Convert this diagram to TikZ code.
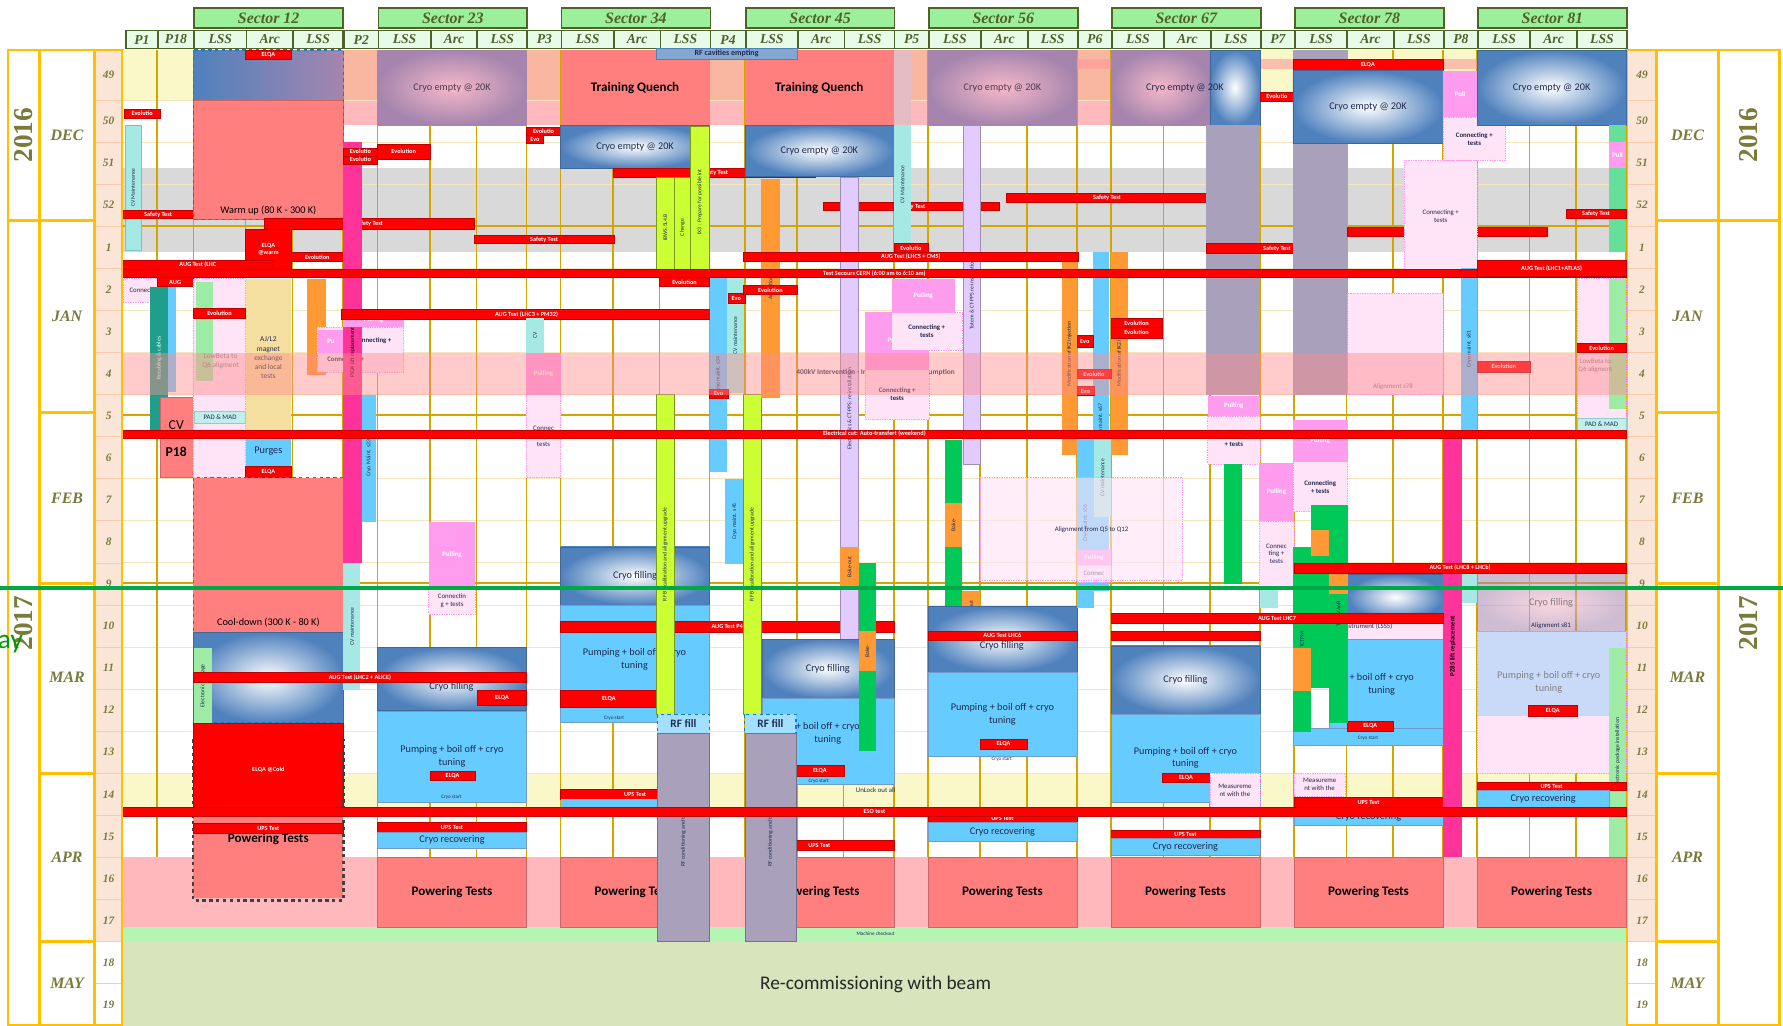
\documentclass[tikz,border=0pt]{standalone}
\usepackage{fontspec}
\setmainfont{Liberation Serif}
\newfontfamily\calib{Carlito}

\definecolor{goldl}{HTML}{D4A500}
\definecolor{frameor}{HTML}{FFC000}
\definecolor{peach}{HTML}{F8CBAD}
\definecolor{weekbg}{HTML}{FBE5D6}
\definecolor{olive}{HTML}{4F6228}
\definecolor{wkcol}{HTML}{7A7A3A}
\definecolor{hdrgreen}{HTML}{9CF09C}
\definecolor{subgreen}{HTML}{E8FAE8}
\definecolor{salmon}{HTML}{FF7F7F}
\definecolor{lblue}{HTML}{66CCFF}
\definecolor{cblue}{HTML}{4F81BD}
\definecolor{mauve}{HTML}{A585AE}
\definecolor{mauvein}{HTML}{F6B8C8}
\definecolor{greyp}{HTML}{A9A1BC}
\definecolor{lime}{HTML}{CCFF33}
\definecolor{hotpink}{HTML}{FF3399}
\definecolor{pull}{HTML}{FF9CEE}
\definecolor{dotpink}{HTML}{FFE3F6}
\definecolor{cyanl}{HTML}{A6E8E4}
\definecolor{lpurple}{HTML}{E2CCFF}
\definecolor{orng}{HTML}{FF9933}
\definecolor{tealc}{HTML}{1F9E8C}
\definecolor{grn}{HTML}{00C957}
\definecolor{lgrn}{HTML}{9EEBA5}
\definecolor{pyellow}{HTML}{FAF8C8}
\definecolor{salm2}{HTML}{F9B6A0}
\definecolor{pinkband}{HTML}{FF8C8C}
\definecolor{lpink}{HTML}{FFB8BC}
\definecolor{mgreen}{HTML}{B4F5B4}
\definecolor{beige}{HTML}{D8E4BC}
\definecolor{todayc}{HTML}{00A846}
\definecolor{tanc}{HTML}{F5DFA0}
\definecolor{greyc}{HTML}{D9D9D9}
\definecolor{rowl}{HTML}{F5E6C0}
\definecolor{darkred}{HTML}{C00000}
\definecolor{navy}{HTML}{1F2A4F}

\tikzset{
  sechdr/.style={draw=olive, line width=1.5pt, fill=hdrgreen, text=olive, inner sep=0pt,
    font=\bfseries\itshape\fontsize{14}{14}\selectfont},
  subhdr/.style={draw=olive, line width=1.5pt, fill=subgreen, text=olive, inner sep=0pt,
    minimum height=16pt, anchor=north west, font=\bfseries\itshape\fontsize{12}{12}\selectfont},
  wknum/.style={text=wkcol, font=\bfseries\itshape\fontsize{10}{10}\selectfont},
  month/.style={text=wkcol, font=\bfseries\itshape\fontsize{14}{14}\selectfont},
  year/.style={text=wkcol, rotate=90, font=\bfseries\fontsize{24}{24}\selectfont},
  goldline/.style={goldl, line width=1.3pt},
  redbar/.style={fill=red, draw=darkred, line width=0.4pt},
  redtxt/.style={font=\calib\bfseries\fontsize{5.5}{6}\selectfont, text=white, align=center, inner sep=0pt},
  tasktxt/.style={font=\calib\fontsize{6}{7}\selectfont, text=navy, align=center, inner sep=0pt},
  whitetxt/.style={tasktxt, text=white, font=\calib\bfseries\fontsize{6}{7}\selectfont},
  cryotxt/.style={font=\calib\fontsize{9}{11}\selectfont, text=navy, align=center, inner sep=0pt},
  bigtxt/.style={font=\calib\bfseries\fontsize{11.5}{12}\selectfont, text=black, inner sep=0pt},
  vtxt/.style={rotate=90, font=\calib\fontsize{5}{5}\selectfont, text=navy, inner sep=0pt},
  tinytxt/.style={font=\calib\fontsize{4.5}{5}\selectfont, text=navy, inner sep=0pt},
  cryoempty/.style={inner color=white, outer color=cblue, draw=cblue!80!black, line width=.4pt},
  cryomauve/.style={inner color=mauvein, outer color=mauve},
  lbluebox/.style={fill=lblue, draw=cblue!80, line width=.3pt},
  power/.style={fill=salmon, draw=salmon!80!black, line width=.3pt},
  dotbox/.style={fill=dotpink, draw=pull, densely dotted, line width=.5pt},
  pullbox/.style={fill=pull},
}

% block with a centred label: fill style, label style, name, x1, y1, x2, y2, text
\newcommand{\blk}[8]{%
  \path[#1] (#4,#5) rectangle (#6,#7);
  \node[#2] (#3) at ({(#4+#6)/2},{(#5+#7)/2}) {#8};}
% red label bar: name, x1, y1, x2, y2, text
\newcommand{\rlab}[6]{%
  \path[redbar] (#2,#3) rectangle (#4,#5);
  \node[redtxt] (#1) at ({(#2+#4)/2},{(#3+#5)/2}) {#6};}

\begin{document}
\begin{tikzpicture}[x=1pt,y=-1pt]
\useasboundingbox (0,0) rectangle (1568,902);
\fill[white] (0,0) rectangle (1568,902);

% ---------- header
\foreach \s/\nm in {170/12,332/23,493/34,655/45,816/56,977/67,1138/78,1299/81} {
  \node[sechdr, minimum width=131pt, minimum height=18pt, anchor=north west] (sec\nm) at (\s,6) {Sector \nm};
  \node[subhdr, minimum width=46pt] (lssa\nm) at (\s,26) {LSS};
  \node[subhdr, minimum width=41pt] (arc\nm) at (\s+46,26) {Arc};
  \node[subhdr, minimum width=44pt] (lssb\nm) at (\s+87,26) {LSS};
}
\foreach \a/\w/\nm in {110/28/P1,138/32/P18,302/30/P2,463/30/P3,624/31/P4,786/30/P5,947/30/P6,1108/30/P7,1269/30/P8} {
  \node[subhdr, minimum width=\w pt] (hdr\nm) at (\a,26) {\nm};
}

% ---------- side frames
\fill[weekbg] (83,44) rectangle (108,828);
\fill[weekbg] (1430,44) rectangle (1457,828);
\foreach \n in {1,...,22} {
  \draw[peach, line width=.6pt] (83,{51+37*\n}) -- (108,{51+37*\n});
  \draw[peach, line width=.6pt] (1430,{51+37*\n}) -- (1457,{51+37*\n});
}
\foreach \xa/\xb in {7/35,35/83,83/108,1430/1457,1457/1511,1511/1565} {
  \draw[frameor, line width=2.5pt] (\xa,44) rectangle (\xb,902);
}
\foreach \y in {194,363,513,680,828} {
  \draw[frameor, line width=2.5pt] (35,\y) -- (83,\y);
  \draw[frameor, line width=2.5pt] (1457,\y) -- (1511,\y);
}
\draw[frameor, line width=2.5pt] (7,194) -- (35,194);
\draw[frameor, line width=2.5pt] (1511,194) -- (1565,194);
\foreach \w [count=\n from 0] in {49,50,51,52,1,2,3,4,5,6,7,8,9,10,11,12,13,14,15,16,17,18,19} {
  \pgfmathsetmacro{\yc}{\n==0 ? 66 : 69.5+37*\n}
  \node[wknum] (wl\n) at (95.5,\yc) {\w};
  \node[wknum] (wr\n) at (1444,\yc) {\w};
}
\foreach \m/\y in {DEC/119,JAN/278,FEB/438,MAR/596,APR/754,MAY/865} {
  \node[month] (ml\m) at (59,\y) {\m};
  \node[month] (mr\m) at (1484,\y) {\m};
}
\node[year] (yl16) at (21,119) {2016};
\node[year] (yl17) at (21,548) {2017};
\node[year] (yr16) at (1538,119) {2016};
\node[year] (yr17) at (1538,548) {2017};

% ---------- chart background
\fill[white] (108,44) rectangle (1430,828);
\fill[pyellow] (108,44) rectangle (1430,88);
\foreach \a/\b in {302/332,463/493,624/655,786/816,947/977} {
  \fill[salm2] (\a,44) rectangle (\b,88);
}
\fill[lpink] (302,88) rectangle (1108,110);
\fill[greyc] (108,148) rectangle (1430,222);
\fill[pyellow] (108,680) rectangle (1430,712);
\foreach \n in {1,...,19} {
  \draw[rowl, line width=.7pt] (108,{51+37*\n}) -- (1430,{51+37*\n});
}
\foreach \s in {170,332,493,655,816,977,1138,1299} {
  \foreach \d in {0,46,87,131} {
    \draw[goldline] (\s+\d,44) -- (\s+\d,754);
  }
}
\draw[goldline] (138,44) -- (138,754);
\foreach \y in {199,365,513} {
  \draw[goldl, line width=2pt] (108,\y) -- (1430,\y);
}
\fill[red!40, opacity=.6] (885,52) rectangle (1360,61);
\fill[lpink] (108,754) rectangle (1430,815);
\fill[mgreen] (108,815) rectangle (1430,828);
\node[tinytxt] (checkout) at (770,821) {Machine checkout};
\fill[beige] (108,828) rectangle (1430,902);
\node[font=\calib\fontsize{17}{17}\selectfont, text=black!85] (recom) at (770,866) {Re-commissioning with beam};

% ---------- powering tests
\foreach \s/\nm in {332/23,493/34,655/45,816/56,977/67,1138/78,1299/81} {
  \blk{power}{bigtxt}{pow\nm}{\s}{754}{\s+131}{815}{Powering Tests}
}

% ---------- P1 / P18
\rlab{p1evo}{109}{96}{141}{104}{Evolutio}
\blk{fill=cyanl,draw=tealc!60}{vtxt}{p1cv}{110}{110}{124}{220}{CV Maintenance}
\rlab{p1safety}{108}{185}{170}{192}{Safety Test}
\blk{dotbox}{tasktxt}{p1conn}{108}{245}{138}{266}{Connec}
\rlab{p18aug}{138}{244}{170}{252}{AUG}
\blk{fill=tealc}{vtxt,text=white}{p18cab}{132}{252}{148}{378}{Recabling \& cables}
\path[fill=lblue] (148,252) rectangle (155,345);
\path[fill=salmon, draw=salmon!80!black] (141,349) rectangle (172,420);
\node[font=\calib\fontsize{12}{12}\selectfont] (p18cv) at (155,374) {CV};
\node[font=\calib\bfseries\fontsize{12}{12}\selectfont] (p18name) at (155,397) {P18};

% ---------- Sector 12
\path[left color=cblue, middle color=cblue!25, right color=mauve] (170,44) rectangle (302,88);
\path[fill=salmon, draw=salmon!80!black] (170,88) rectangle (302,193);
\node[cryotxt, text=black] (s12warm) at (236,185) {Warm up (80 K - 300 K)};
\draw[dashed, cyan!60!blue, line width=1.3pt] (170,44) rectangle (302,193);
\rlab{s12elqa}{216}{44}{256}{52}{ELQA}
\rlab{s12elqaw}{216}{202}{256}{237}{ELQA\\@warm}
\rlab{s12evo}{256}{222}{302}{230}{Evolution}
\rlab{s12safety}{232}{192}{417}{202}{Safety Test}
\rlab{s23safety}{417}{207}{540}{214}{Safety Test}
\path[dotbox] (170,245) rectangle (216,420);
\path[fill=lgrn] (172,248) rectangle (187,335);
\rlab{s12evo2}{170}{271}{216}{280}{Evolution}
\node[tasktxt, text=gray, font=\calib\fontsize{6.5}{8}\selectfont] (s12lowb) at (194,318) {LowBeta to\\Q6 aligment};
\blk{fill=cyanl!70, draw=tealc!50}{tasktxt}{s12pad}{171}{362}{216}{372}{PAD \& MAD}
\blk{fill=tanc}{tasktxt, font=\calib\fontsize{6.5}{8}\selectfont}{s12aj}{216}{245}{256}{384}{AJ/L2\\magnet\\exchange\\and local\\tests}
\blk{fill=lblue}{cryotxt}{s12purge}{216}{384}{256}{410}{Purges}
\rlab{s12elqa3}{216}{410}{256}{420}{ELQA}
\path[fill=orng] (270,245) rectangle (287,330);
\path[dotbox] (279,288) rectangle (355,327);
\blk{pullbox}{whitetxt}{s12pu}{280}{290}{302}{310}{Pu}
\node[tasktxt, font=\calib\bfseries\fontsize{6}{7}\selectfont] (s12conn) at (328,300) {Connecting +};
\node[tasktxt, font=\calib\bfseries\fontsize{6}{7}\selectfont] (s12conn2) at (304,316) {Connecting +};
\path[fill=salmon] (170,420) rectangle (302,556);
\node[cryotxt, text=black] (s12cool) at (236,547) {Cool-down (300 K - 80 K)};
\path[cryoempty] (170,556) rectangle (302,636);
\draw[dashed, cyan!60!blue, line width=1.3pt] (170,420) rectangle (302,636);
\blk{fill=lgrn}{vtxt}{s12elec}{171}{570}{186}{636}{Electronic package}
\path[fill=salmon] (170,718) rectangle (302,790);
\node[bigtxt] (pow12) at (236,738) {Powering Tests};
\rlab{s12elqac}{170}{636}{302}{718}{ELQA @Cold}
\rlab{s12ups}{170}{724}{302}{733}{UPS Test}
\draw[dashed, black!75, line width=2pt] (170,650) -- (170,792) -- (302,792) -- (302,650);

% ---------- P2
\blk{fill=hotpink}{vtxt, text=black}{p2lift}{302}{125}{318}{495}{PX24 Lift replacement}
\rlab{p2evo}{302}{130}{332}{137}{Evolutio}
\rlab{p2evo2}{302}{137}{332}{144}{Evolutio}
\blk{pullbox}{whitetxt}{p2pull}{302}{274}{355}{288}{Pulling}
\blk{fill=lblue}{vtxt}{p2cryo}{318}{347}{331}{459}{Cryo Maint. s23}
\blk{fill=cyanl}{vtxt}{p2cv}{302}{495}{317}{607}{CV maintenance}

% ---------- Sector 23
\blk{cryomauve}{cryotxt, text=mauve!45!black}{s23empty}{332}{44}{463}{110}{Cryo empty @ 20K}
\rlab{s23evo}{332}{127}{378}{140}{Evolution}
\rlab{s23aug}{300}{272}{626}{281}{AUG Test (LHC3 + PM32)}
\blk{pullbox}{whitetxt}{s23pull}{377}{459}{418}{516}{Pulling}
\blk{dotbox}{tasktxt}{s23conn}{377}{516}{418}{540}{Connectin\\g + tests}
\blk{cryoempty}{cryotxt}{s23fill}{332}{569}{463}{625}{}
\node[cryotxt] (s23filltxt) at (397,604) {Cryo filling};
\rlab{s12aug}{170}{591}{463}{600}{AUG Test (LHC2 + ALICE)}
\rlab{s23elqa}{420}{607}{463}{620}{ELQA}
\blk{lbluebox}{cryotxt}{s23pump}{332}{625}{463}{705}{Pumping + boil off + cryo\\tuning}
\rlab{s23elqa2}{378}{678}{418}{686}{ELQA}
\node[tinytxt] (s23start) at (397,701) {Cryo start};
\rlab{s23ups}{332}{723}{463}{732}{UPS Test}
\blk{lbluebox}{cryotxt}{s23rec}{332}{732}{463}{746}{Cryo recovering}

% ---------- P3
\rlab{p3evo}{463}{112}{493}{119}{Evolutio}
\rlab{p3evo2}{463}{119}{478}{126}{Evo}
\blk{fill=cyanl}{vtxt}{p3cv}{463}{280}{478}{310}{CV}
\blk{pullbox}{whitetxt}{p3pull}{463}{310}{493}{347}{Pulling}
\blk{dotbox}{tasktxt}{p3conn}{463}{347}{493}{420}{Connec\\ting +\\tests}

% ---------- Sector 34
\blk{fill=salmon}{bigtxt}{s34train}{493}{44}{624}{110}{Training Quench}
\blk{cryoempty}{cryotxt}{s34empty}{493}{110}{624}{148}{Cryo empty @ 20K}
\rlab{s34safety}{539}{148}{717}{156}{Safety Test}
\blk{fill=lime, draw=lime!60!black}{vtxt}{s34ibws}{577}{156}{593}{244}{IBWS.5L4.B}
\blk{fill=lime, draw=lime!60!black}{vtxt}{s34chg}{593}{156}{607}{244}{Change}
\blk{fill=lime, draw=lime!60!black}{vtxt}{s34ix3}{607}{111}{624}{244}{IX3 : Prepare for possible int}
\rlab{s34evo}{580}{244}{624}{252}{Evolution}
\blk{cryoempty}{cryotxt}{s34fill}{493}{481}{624}{532}{Cryo filling}
\path[lbluebox] (493,532) rectangle (624,635);
\node[cryotxt] (s34pump) at (558,580) {Pumping + boil off + cryo\\tuning};
\rlab{s34aug}{493}{546}{786}{556}{AUG Test P4}
\rlab{s34elqa}{493}{607}{578}{622}{ELQA}
\node[tinytxt] (s34start) at (540,632) {Cryo start};
\blk{fill=lime, draw=lime!60!black}{vtxt}{s34rfb2}{577}{347}{593}{628}{RF B2 calibration and alignment upgrade}
\rlab{s34ups}{493}{694}{624}{703}{UPS Test}
\path[fill=lblue] (493,703) rectangle (578,712);
\blk{fill=lblue!60, draw=cyan!60!blue, dashed, line width=1pt}{cryotxt, font=\calib\bfseries\fontsize{10}{10}\selectfont}{s34rffill}{578}{628}{624}{645}{RF fill}
\blk{fill=greyp, draw=greyp!70!black}{vtxt}{s34rfcond}{578}{645}{624}{828}{RF conditioning and tests}

% ---------- P4
\blk{fill=lblue}{vtxt}{p4cryo}{624}{244}{639}{415}{Cryo maint. s34}
\blk{fill=cyanl}{vtxt}{p4cv}{639}{244}{654}{346}{CV maintenance}
\rlab{p4evo}{640}{258}{655}{267}{Evo}
\rlab{p4evo2}{624}{342}{640}{350}{Evo}
\blk{fill=lblue}{vtxt}{p4cryo45}{638}{421}{654}{496}{Cryo maint. s45}
\blk{fill=lime, draw=lime!60!black}{vtxt}{p4rfb2}{654}{347}{669}{628}{RF B2 calibration and alignment upgrade}

% ---------- Sector 45
\blk{fill=salmon}{bigtxt}{s45train}{655}{44}{786}{110}{Training Quench}
\blk{fill=cblue!70, draw=cblue}{tasktxt, font=\calib\bfseries\fontsize{7}{7}\selectfont}{rfempt}{577}{42}{701}{52}{RF cavities empting}
\blk{cryoempty}{cryotxt}{s45empty}{655}{110}{786}{155}{Cryo empty @ 20K}
\blk{fill=orng}{vtxt}{s45act}{669}{157}{686}{350}{Activation}
\rlab{s45evo}{654}{251}{701}{259}{Evolution}
\rlab{s45safety}{724}{178}{879}{185}{Safety Test}
\blk{fill=lpurple, draw=lpurple!70!black}{vtxt}{s45pps}{739}{156}{755}{563}{Electronics \& CT-PPS: re-installation}
\blk{fill=orng}{vtxt}{s45bake}{739}{481}{755}{516}{Bake-out}
\node[tasktxt, font=\calib\bfseries\fontsize{6.5}{7}\selectfont] (s45kv) at (770,328) {400kV Intervention - Impact on power consumption};
\blk{cryoempty}{cryotxt}{s45fill}{670}{562}{786}{614}{Cryo filling}
\path[lbluebox] (670,614) rectangle (786,690);
\node[cryotxt] (s45pump) at (728,645) {+ boil off + cryo\\tuning};
\rlab{s45elqa}{700}{673}{742}{683}{ELQA}
\node[tinytxt] (s45start) at (720,687) {Cryo start};
\blk{fill=grn}{vtxt}{s45ctw}{755}{495}{770}{660}{CTW}
\blk{fill=orng}{vtxt}{s45bake2}{755}{555}{770}{590}{Bake-}
\node[tasktxt] (unlock) at (770,695) {UnLock out all};
\rlab{s45ups}{655}{739}{786}{748}{UPS Test}
\blk{fill=lblue!60, draw=cyan!60!blue, dashed, line width=1pt}{cryotxt, font=\calib\bfseries\fontsize{10}{10}\selectfont}{s45rffill}{655}{628}{700}{645}{RF fill}
\blk{fill=greyp, draw=greyp!70!black}{vtxt}{s45rfcond}{655}{645}{700}{828}{RF conditioning and tests}

% ---------- P5
\path[fill=greyp!50!salmon!60] (786,44) rectangle (801,110);
\blk{fill=cyanl}{vtxt}{p5cv}{786}{110}{801}{214}{CV Maintenance}
\rlab{p5evo}{786}{214}{816}{222}{Evolutio}
\blk{pullbox}{whitetxt}{p5pull2}{761}{274}{817}{325}{Pulling}
\blk{pullbox}{whitetxt}{p5pull}{784}{245}{840}{275}{Pulling}
\blk{dotbox}{tasktxt, font=\calib\bfseries\fontsize{6}{7}\selectfont}{p5conn}{784}{275}{846}{308}{Connecting +\\tests}
\blk{dotbox}{tasktxt, font=\calib\bfseries\fontsize{6}{7}\selectfont}{p5conn2}{761}{325}{817}{369}{Connecting +\\tests}

% ---------- Sector 56
\blk{cryomauve}{cryotxt, text=mauve!45!black}{s56empty}{816}{44}{947}{110}{Cryo empty @ 20K}
\blk{fill=lpurple, draw=lpurple!70!black}{vtxt}{s56totem}{847}{110}{862}{408}{Totem \& CT-PPS re-installation}
\rlab{s56safety}{885}{170}{1062}{178}{Safety Test}
\blk{fill=grn}{vtxt}{s56tct}{831}{387}{846}{548}{TCTAR}
\blk{fill=orng}{vtxt}{s56bake}{831}{442}{846}{481}{Bake-}
\blk{fill=orng}{vtxt}{s56bake2}{846}{520}{862}{555}{Bake-out}
\path[cryoempty] (816,533) rectangle (947,591);
\node[cryotxt] (s56filltxt) at (881,568) {Cryo filling};
\rlab{s56aug}{816}{555}{947}{563}{AUG Test LHC6}
\blk{lbluebox}{cryotxt}{s56pump}{816}{591}{947}{665}{Pumping + boil off + cryo\\tuning}
\rlab{s56elqa}{862}{650}{903}{659}{ELQA}
\node[tinytxt] (s56start) at (881,668) {Cryo start};
\rlab{s56ups}{816}{716}{947}{723}{UPS Test}
\blk{lbluebox}{cryotxt}{s56rec}{816}{723}{947}{740}{Cryo recovering}

% ---------- P6
\blk{fill=orng}{vtxt}{p6mod1}{934}{222}{947}{400}{Modification of IK2 injection}
\blk{fill=lblue}{vtxt}{p6cryo}{961}{222}{975}{520}{Cryo maint. s67}
\blk{fill=orng}{vtxt}{p6mod2}{977}{222}{992}{400}{Modification of IK2 injection}
\rlab{p6evo}{947}{295}{961}{305}{Evo}
\rlab{p6evo2}{947}{325}{977}{333}{Evolutio}
\rlab{p6evo3}{947}{340}{962}{348}{Evo}
\rlab{s67evoa}{977}{280}{1022}{288}{Evolution}
\rlab{s67evob}{977}{288}{1022}{297}{Evolution}
\blk{fill=lblue}{vtxt}{p6cryo56}{947}{385}{962}{535}{Cryo maint. s56}
\blk{fill=cyanl}{vtxt}{p6cv}{962}{385}{977}{455}{CV maintenance}
\blk{pullbox}{whitetxt}{p6pull}{947}{484}{977}{497}{Pulling}
\blk{dotbox}{tasktxt}{p6conn}{947}{497}{977}{512}{Connec}
\path[dotbox, fill opacity=.6] (862,420) rectangle (1040,510);
\node[tasktxt] (s56align) at (960,466) {Alignment from Q5 to Q12};

% ---------- Sector 67
\path[cryomauve] (977,44) rectangle (1064,110);
\path[cryoempty] (1064,44) rectangle (1108,110);
\node[cryotxt] (s67empty) at (1042,77) {Cryo empty @ 20K};
\path[fill=greyp] (1061,110) rectangle (1108,347);
\rlab{s67safety}{1061}{214}{1185}{223}{Safety Test}
\blk{pullbox}{whitetxt}{s67pull}{1062}{348}{1108}{366}{Pulling}
\blk{dotbox}{tasktxt, font=\calib\bfseries\fontsize{6}{7}\selectfont}{s67conn}{1062}{366}{1108}{408}{Connecting\\+ tests}
\path[fill=grn] (1076,408) rectangle (1092,514);
\path[redbar] (977,555) rectangle (1108,563);
\blk{cryoempty}{cryotxt}{s67fill}{977}{568}{1108}{628}{Cryo filling}
\blk{lbluebox}{cryotxt}{s67pump}{977}{628}{1108}{705}{Pumping + boil off + cryo\\tuning}
\rlab{s67elqa}{1022}{680}{1064}{688}{ELQA}
\blk{dotbox}{tasktxt}{s67meas}{1064}{680}{1108}{710}{Measureme\\nt with the}
\rlab{s67ups}{977}{730}{1108}{737}{UPS Test}
\blk{lbluebox}{cryotxt}{s67rec}{977}{737}{1108}{752}{Cryo recovering}

% ---------- P7
\rlab{p7evo}{1108}{81}{1138}{89}{Evolutio}
\blk{pullbox}{whitetxt}{p7pull}{1107}{407}{1138}{458}{Pulling}
\blk{dotbox}{tasktxt}{p7conn}{1107}{458}{1138}{516}{Connec\\ting +\\tests}
\path[fill=cyanl] (1108,516) rectangle (1124,535);

% ---------- Sector 78
\path[fill=greyp] (1137,44) rectangle (1185,347);
\rlab{s78elqa}{1137}{52}{1269}{62}{ELQA}
\blk{cryoempty}{cryotxt}{s78empty}{1137}{62}{1269}{126}{Cryo empty @ 20K}
\rlab{s78safety}{1185}{200}{1361}{208}{Safety Test}
\path[dotbox] (1185,258) rectangle (1269,347);
\node[tasktxt, text=gray] (s78aligntxt) at (1225,340) {Alignment s78};
\blk{pullbox}{whitetxt}{s78pull}{1137}{369}{1185}{406}{Pulling}
\blk{dotbox}{tasktxt, font=\calib\bfseries\fontsize{6}{7}\selectfont}{s78conn}{1137}{406}{1185}{450}{Connecting\\+ tests}
\path[cryoempty] (1185,505) rectangle (1269,545);
\blk{dotbox}{tasktxt}{s78instr}{1137}{540}{1269}{562}{Instrument (LSS5)}
\path[lbluebox] (1169,562) rectangle (1269,640);
\node[cryotxt] (s78pump) at (1215,602) {+ boil off + cryo\\tuning};
\path[lbluebox] (1137,640) rectangle (1269,655);
\rlab{s78elqa2}{1185}{634}{1225}{643}{ELQA}
\node[tinytxt] (s78start) at (1203,649) {Cryo start};
\blk{fill=grn}{vtxt}{s78tctpm}{1137}{481}{1153}{644}{TCTPM}
\path[fill=grn] (1153,444) rectangle (1169,605);
\path[fill=orng] (1153,466) rectangle (1169,489);
\path[fill=orng] (1137,570) rectangle (1153,608);
\blk{fill=grn}{vtxt}{s78tcp}{1169}{444}{1185}{636}{TCPCV.A6R}
\path[fill=orng] (1169,504) rectangle (1185,522);
\blk{dotbox}{tasktxt}{s78meas}{1138}{680}{1183}{700}{Measureme\\nt with the}
\blk{lbluebox}{cryotxt}{s78rec}{1138}{711}{1269}{726}{Cryo recovering}
\rlab{s78ups}{1138}{701}{1269}{711}{UPS Test}

% ---------- P8
\blk{pullbox}{whitetxt}{p8pull}{1269}{62}{1299}{103}{Pull}
\blk{dotbox}{tasktxt}{p8conn2}{1235}{141}{1299}{240}{Connecting +\\tests}
\blk{dotbox}{tasktxt, font=\calib\bfseries\fontsize{6}{7}\selectfont}{p8conn}{1269}{103}{1324}{141}{Connecting +\\tests}
\blk{fill=lblue}{vtxt}{p8cryo}{1285}{236}{1299}{378}{Cryo maint. s81}
\blk{fill=hotpink}{vtxt, text=black, font=\calib\bfseries\fontsize{6}{6}\selectfont}{p8lift}{1269}{382}{1286}{754}{PZ85 lift replacement}
\path[fill=cyanl] (1286,495) rectangle (1299,530);

% ---------- Sector 81
\blk{cryoempty}{cryotxt}{s81empty}{1299}{44}{1430}{110}{Cryo empty @ 20K}
\path[fill=grn!60] (1415,110) rectangle (1430,125);
\blk{pullbox}{whitetxt}{s81pull}{1415}{125}{1430}{148}{Pull}
\path[fill=grn!60] (1415,148) rectangle (1430,222);
\rlab{s81safety}{1377}{184}{1430}{192}{Safety Test}
\path[dotbox] (1387,245) rectangle (1430,380);
\path[fill=lgrn] (1415,245) rectangle (1430,360);
\node[tasktxt, text=gray] (s81lowb) at (1403,322) {LowBeta to\\Q6 aligment};
\rlab{s81evo}{1387}{302}{1430}{310}{Evolution}
\rlab{s81evo2}{1299}{318}{1346}{327}{Evolution}
\blk{fill=cyanl!70, draw=tealc!50}{tasktxt}{s81pad}{1387}{368}{1430}{378}{PAD \& MAD}
\path[dotbox] (1299,555) rectangle (1430,680);
\path[cryomauve, opacity=.55] (1299,505) rectangle (1430,555);
\node[cryotxt, text=gray] (s81fill) at (1364,530) {Cryo filling};
\node[tasktxt] (s81align) at (1364,550) {Alignment s81};
\path[fill=lblue, opacity=.35] (1299,555) rectangle (1430,630);
\node[cryotxt, text=gray] (s81pump) at (1362,600) {Pumping + boil off + cryo\\tuning};
\rlab{s81elqa}{1344}{620}{1387}{630}{ELQA}
\blk{fill=lgrn}{vtxt}{s81elec}{1415}{570}{1430}{754}{Electronic package installation}
\rlab{s81ups}{1299}{688}{1430}{695}{UPS Test}
\blk{lbluebox}{cryotxt}{s81rec}{1299}{695}{1415}{710}{Cryo recovering}

% ---------- week 4 band, full width tests
\fill[pinkband, opacity=.45] (108,310) rectangle (1430,347);
\rlab{s67aug}{977}{539}{1269}{548}{AUG Test LHC7}
\rlab{s78aug}{1138}{495}{1430}{504}{AUG Test (LHC8 + LHCb)}
\rlab{secours}{108}{237}{1430}{244}{Test Secours CERN (6:00 am to 6:10 am)}
\rlab{auglhc}{108}{229}{240}{237}{AUG Test (LHC}
\rlab{s45aug}{654}{222}{948}{230}{AUG Test (LHC5 + CMS)}
\rlab{s81aug}{1299}{229}{1430}{243}{AUG Test (LHC1+ATLAS)}
\rlab{elcut}{108}{378}{1430}{385}{Electrical cut: Auto-transfert (weekend)}
\rlab{eso}{108}{710}{1430}{718}{ESO test}

% ---------- today
\draw[todayc, line width=3pt] (0,517) -- (1568,517);
\node[font=\calib\fontsize{24}{24}\selectfont, text=green!60!black, anchor=west, inner sep=0pt] (today) at (-2,566) {ay};
\end{tikzpicture}
\end{document}
